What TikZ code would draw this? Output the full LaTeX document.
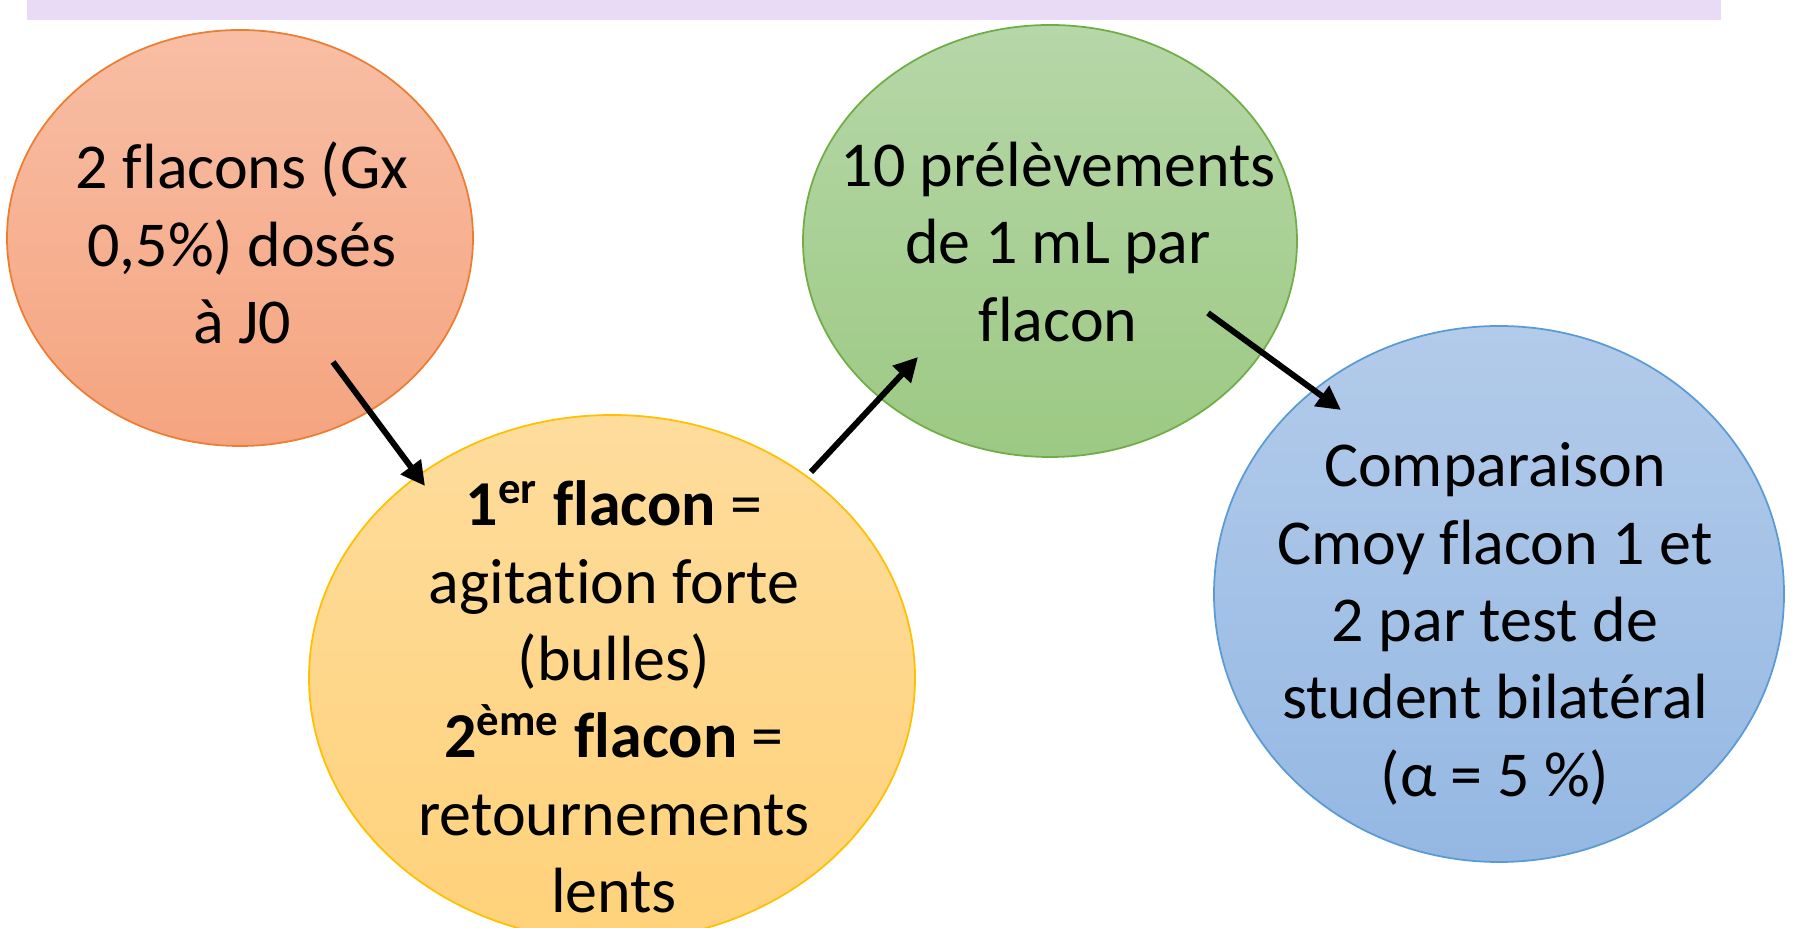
\documentclass[tikz,border=0pt]{standalone}
\usepackage{fontspec}
\setmainfont{Carlito}[Ligatures=NoCommon]
\usetikzlibrary{shapes.geometric,arrows.meta}
\definecolor{bandeau}{HTML}{E9DAF5}
\definecolor{orhaut}{HTML}{F8BEA5}
\definecolor{orbas}{HTML}{F5A47F}
\definecolor{orbord}{HTML}{ED7D31}
\definecolor{jahaut}{HTML}{FEDC9C}
\definecolor{jabas}{HTML}{FFD27A}
\definecolor{jabord}{HTML}{FFC000}
\definecolor{vehaut}{HTML}{B6D7A8}
\definecolor{vebas}{HTML}{9CC983}
\definecolor{vebord}{HTML}{70AD47}
\definecolor{blhaut}{HTML}{B3CBEA}
\definecolor{blbas}{HTML}{94B8E3}
\definecolor{blbord}{HTML}{5B9BD5}
\tikzset{
  bulle/.style={ellipse, line width=0.5pt, inner sep=0pt},
  texte/.style={align=center, inner sep=0pt, font=\fontsize{18.2}{22}\selectfont},
  fleche/.style={line width=1.7pt, -{Triangle[length=0.24cm, width=0.24cm]}}
}
\begin{document}
\begin{tikzpicture}
    \useasboundingbox (0,0) rectangle (17.99,-9.28);
    \clip (0,0) rectangle (17.99,-9.28);
    \fill[bandeau] (0.275,0) rectangle (17.21,-0.20);
    % les quatre bulles
    \node[bulle, draw=orbord, top color=orhaut, bottom color=orbas,
          minimum width=4.66cm, minimum height=4.16cm] (fond1) at (2.40,-2.38) {};
    \node[bulle, draw=vebord, top color=vehaut, bottom color=vebas,
          minimum width=4.94cm, minimum height=4.32cm] (fond3) at (10.50,-2.41) {};
    \node[bulle, draw=blbord, top color=blhaut, bottom color=blbas,
          minimum width=5.70cm, minimum height=5.36cm] (fond4) at (14.99,-5.94) {};
    \node[bulle, draw=jabord, top color=jahaut, bottom color=jabas,
          minimum width=6.06cm, minimum height=5.26cm] (fond2) at (6.12,-6.78) {};
    % les textes
    \node[texte] (flacons) at (2.42,-2.43) {2 flacons (Gx\\0,5\%) dosés\\à J0};
    \node[texte] (prelev) at (10.58,-2.42) {10 prélèvements\\de 1 mL par\\flacon};
    \node[texte] (agit) at (6.14,-6.97) {\textbf{1\textsuperscript{er} flacon} =\\agitation forte\\(bulles)\\\textbf{2\textsuperscript{ème} flacon} =\\retournements\\lents};
    \node[texte] (compar) at (14.95,-6.24) {Comparaison\\Cmoy flacon 1 et\\2 par test de\\student bilatéral\\(α = 5 \%)};
    % les flèches
    \coordinate (d1) at (3.33,-3.62);
    \coordinate (f1) at (4.25,-4.86);
    \coordinate (d2) at (8.11,-4.72);
    \coordinate (f2) at (9.18,-3.57);
    \coordinate (d3) at (12.08,-3.13);
    \coordinate (f3) at (13.41,-4.10);
    \draw[fleche] (d1) -- (f1);
    \draw[fleche] (d2) -- (f2);
    \draw[fleche] (d3) -- (f3);
\end{tikzpicture}
\end{document}
